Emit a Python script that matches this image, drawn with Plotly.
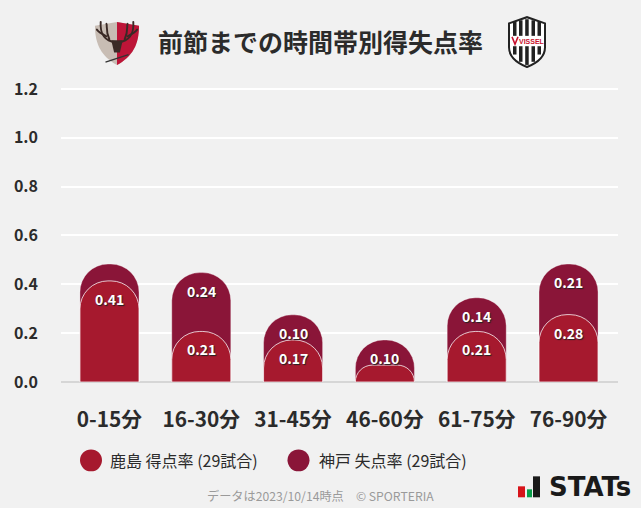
import base64
import plotly.graph_objects as go

categories = ["0-15分", "16-30分", "31-45分", "46-60分", "61-75分", "76-90分"]
kashima_for = [0.414, 0.207, 0.172, 0.069, 0.207, 0.276]
kobe_against = [0.069, 0.241, 0.103, 0.103, 0.138, 0.207]
y_ticks = [0.0, 0.2, 0.4, 0.6, 0.8, 1.0, 1.2]
title_text = "前節までの時間帯別得失点率"
legend_names = ["鹿島 得点率 (29試合)", "神戸 失点率 (29試合)"]
footer_text = "データは2023/10/14時点　© SPORTERIA"

RED, WINE = "#a6192e", "#8a1538"
FONT = "Noto Sans CJK JP"
W, H = 641, 508
L, R, T, B = 61, 618, 85, 382.5
Y_TOP = 1.2163
totals = [round(a + b, 3) for a, b in zip(kashima_for, kobe_against)]


def px(x):
    return (x - L) / (R - L)


def py(y):
    return (B - y) / (B - T)


def svg_uri(svg):
    return "data:image/svg+xml;base64," + base64.b64encode(svg.encode()).decode()


kashima_logo = """<svg xmlns="http://www.w3.org/2000/svg" viewBox="0 0 48 50">
<path d="M1 8 L24 4 L47 8 C47 28 40 40 24 49 C8 40 1 28 1 8Z" fill="#c8bdb4"/>
<path d="M24 4 L47 8 C47 28 40 40 24 49Z" fill="#bd1538"/>
<g fill="none" stroke="#3a2a26" stroke-width="2" stroke-linecap="round">
<path d="M22 25 C12 24 6 17 7 4"/><path d="M13 19 C9 17 5 15 3 12"/><path d="M16 22 C12 14 14 8 13 6"/>
<path d="M26 25 C36 24 42 17 41 4"/><path d="M35 19 C39 17 43 15 45 12"/><path d="M32 22 C36 14 34 8 35 6"/>
</g>
<path d="M18 23 L30 23 L27 36 L21 36Z" fill="#3a2a26"/>
<path d="M12 46 L36 38" stroke="#333" stroke-width="1.4"/>
</svg>"""

kobe_logo = """<svg xmlns="http://www.w3.org/2000/svg" viewBox="0 0 40 50">
<path d="M2 7 L20 1 L38 7 L38 30 C38 40 28 46 20 49 C12 46 2 40 2 30Z" fill="#fff" stroke="#222" stroke-width="2"/>
<g fill="#222"><rect x="6" y="5" width="3.5" height="32"/><rect x="12" y="4" width="3.5" height="40"/><rect x="18.2" y="3" width="3.5" height="44"/><rect x="24.5" y="4" width="3.5" height="40"/><rect x="30.5" y="5" width="3.5" height="32"/></g>
<rect x="4" y="19" width="32" height="10" fill="#fff"/>
<path d="M5 20 L8 27 L11 20" fill="none" stroke="#c8102e" stroke-width="1.5"/>
<text x="12" y="27" font-family="Liberation Sans" font-weight="700" font-size="7" fill="#c8102e">VISSEL</text>
</svg>"""

fig = go.Figure()
fig.add_bar(x=categories, y=totals, marker=dict(color=WINE, line=dict(color="rgba(255,255,255,0.35)", width=1)),
            width=0.643, name=legend_names[1], hoverinfo="skip", showlegend=False)
fig.add_bar(x=categories, y=kashima_for, yaxis="y2",
            marker=dict(color=RED, line=dict(color="rgba(255,255,255,0.75)", width=1)),
            width=0.643, name=legend_names[0], hoverinfo="skip", showlegend=False)

ann = []
label_font = dict(family=FONT, size=14, color="#ffffff", weight="bold", shadow="1px 1px 1px #222")
for c, a, b, t in zip(categories, kashima_for, kobe_against, totals):
    if a >= 0.1:
        ann.append(dict(x=c, y=a, xref="x", yref="y", text=f"{a:.2f}", showarrow=False, yshift=-18, font=label_font))
    if b >= 0.1:
        ann.append(dict(x=c, y=t, xref="x", yref="y", text=f"{b:.2f}", showarrow=False, yshift=-18, font=label_font))

def page_text(x, y, text, font, xanchor="center"):
    ann.append(dict(x=px(x), y=py(y), xref="paper", yref="paper", xanchor=xanchor, yanchor="middle",
                    text=text, showarrow=False, font=font))

page_text(320.5, 41, title_text, dict(family=FONT, size=25, color="#2b2b2b", weight="bold"))
for x0, name in zip((108, 317), legend_names):
    page_text(x0, 461, name, dict(family=FONT, size=16, color="#2b2b2b"), "left")
page_text(320.5, 497, footer_text, dict(family=FONT, size=12.2, color="#9a9a9a"))
page_text(547, 488, "STATs", dict(family="DejaVu Sans", size=26, color="#1a1a1a", weight="bold"), "left")

shapes = []
for cx, color in zip((91, 298.5), (RED, WINE)):
    shapes.append(dict(type="circle", xref="paper", yref="paper", x0=px(cx - 11), x1=px(cx + 11),
                       y0=py(472), y1=py(450), fillcolor=color, line=dict(width=0)))
for x0, x1, y0, y1, color in [(518, 525, 498, 487, "#d7141a"), (527, 532, 498, 490, "#0a9e4a"), (533, 540, 498, 477, "#1a1a1a")]:
    shapes.append(dict(type="rect", xref="paper", yref="paper", x0=px(x0), x1=px(x1), y0=py(y0), y1=py(y1),
                       fillcolor=color, line=dict(width=0)))

fig.update_layout(
    width=W, height=H, barmode="overlay", barcornerradius=28,
    paper_bgcolor="#f1f1f1", plot_bgcolor="#f1f1f1",
    margin=dict(l=L, r=W - R, t=T, b=H - B, autoexpand=False),
    showlegend=False, annotations=ann, shapes=shapes,
    images=[
        dict(source=svg_uri(kashima_logo), xref="paper", yref="paper", x=px(94), y=py(18), sizex=46 / (R - L), sizey=48 / (B - T),
             xanchor="left", yanchor="top", sizing="stretch"),
        dict(source=svg_uri(kobe_logo), xref="paper", yref="paper", x=px(507), y=py(16), sizex=40 / (R - L), sizey=52 / (B - T),
             xanchor="left", yanchor="top", sizing="stretch"),
    ],
    xaxis=dict(type="category", range=[-0.528, 5.539], showgrid=False, showline=False, zeroline=False, ticks="",
               tickfont=dict(family=FONT, size=20.8, color="#2b2b2b", weight="bold"), ticklabelstandoff=23),
    yaxis=dict(range=[0, Y_TOP], tickvals=y_ticks, tickformat=".1f", gridcolor="#ffffff", gridwidth=2,
               zeroline=True, zerolinecolor="#d6d6d6", zerolinewidth=2, showline=False, ticks="",
               tickfont=dict(family=FONT, size=16, color="#2b2b2b", weight="bold"), ticklabelstandoff=22),
    yaxis2=dict(range=[0, Y_TOP], overlaying="y", visible=False),
)
fig.write_html("out.html", post_script="document.body.style.margin='0';", config={"displayModeBar": False})
